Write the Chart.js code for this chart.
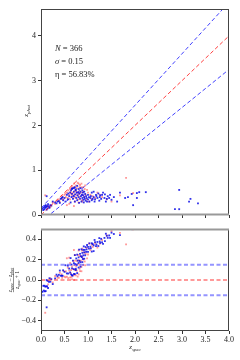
<!DOCTYPE html>
<html>
<head>
<meta charset="utf-8">
<script src="https://cdn.jsdelivr.net/npm/chart.js@4.4.0/dist/chart.umd.min.js"></script>
<style>
html, body { margin: 0; padding: 0; background: #fff; }
.box { position: absolute; left: 0; }
</style>
</head>
<body>
<div class="box" style="top:0"><canvas id="topChart" width="240" height="222"></canvas></div>
<div class="box" style="top:222px"><canvas id="botChart" width="240" height="138"></canvas></div>
<script>
// photometric vs spectroscopic redshift
const blueZspec = [0.01, 0.03, 0.05, 0.06, 0.07, 0.08, 0.09, 0.10, 0.11, 0.12, 0.12, 0.13, 0.14, 0.15, 0.17, 0.18, 0.20, 0.22, 0.25,
  0.35, 0.42, 0.47, 0.50, 0.52, 0.55, 0.57, 0.60, 0.62, 0.63, 0.65, 0.66, 0.68, 0.70, 0.70, 0.72, 0.73, 0.74, 0.75, 0.76, 0.77,
  0.78, 0.80, 0.80, 0.81, 0.82, 0.83, 0.84, 0.85, 0.86, 0.87, 0.88, 0.89, 0.90, 0.90, 0.91, 0.92, 0.93, 0.94, 0.95, 0.96, 0.97,
  0.98, 1.00, 1.00, 1.02, 1.03, 1.05, 1.06, 1.08, 1.10, 1.12, 1.14, 1.15, 1.17, 1.20, 1.22, 1.24, 1.25, 1.28, 1.30, 1.32, 1.35,
  1.38, 1.40, 1.42, 1.45, 1.47, 1.50, 1.55, 1.62, 1.68, 1.79, 1.85, 1.93, 1.96, 2.04, 2.04, 2.09, 2.23, 2.85, 2.94, 2.94, 3.15,
  3.18, 3.34, 0.66, 0.70, 0.74,
  0.30, 0.33, 0.38, 0.40, 0.44, 0.46, 0.58, 0.64, 0.67, 0.72, 0.77, 0.80, 0.84, 0.88, 0.92, 1.08, 1.12, 1.18, 1.26, 1.36];
const blueZphot = [0.12, 0.15, 0.11, 0.17, 0.13, 0.20, 0.16, 0.22, 0.18, 0.42, 0.12, 0.20, 0.15, 0.24, 0.19, 0.16, 0.22, 0.21, 0.30,
  0.30, 0.36, 0.33, 0.38, 0.30, 0.45, 0.35, 0.42, 0.50, 0.28, 0.40, 0.47, 0.36, 0.52, 0.42, 0.30, 0.46, 0.55, 0.38, 0.50, 0.33,
  0.44, 0.58, 0.40, 0.27, 0.48, 0.36, 0.52, 0.42, 0.30, 0.45, 0.38, 0.50, 0.34, 0.44, 0.28, 0.40, 0.36, 0.47, 0.32, 0.42, 0.38,
  0.30, 0.45, 0.35, 0.40, 0.30, 0.38, 0.42, 0.33, 0.36, 0.40, 0.30, 0.35, 0.45, 0.38, 0.48, 0.32, 0.40, 0.36, 0.45, 0.50, 0.38,
  0.30, 0.36, 0.42, 0.38, 0.45, 0.34, 0.40, 0.30, 0.50, 0.38, 0.40, 0.47, 0.22, 0.49, 0.38, 0.51, 0.51, 0.13, 0.13, 0.56, 0.30,
  0.36, 0.26, 0.58, 0.60, 0.57,
  0.28, 0.26, 0.31, 0.27, 0.38, 0.40, 0.48, 0.55, 0.60, 0.62, 0.65, 0.50, 0.60, 0.55, 0.52, 0.50, 0.52, 0.42, 0.44, 0.46];
const redZspec = [0.09, 0.15, 0.20, 0.25, 0.30, 0.35, 0.40, 0.45, 0.48, 0.50, 0.53, 0.55, 0.57, 0.58, 0.60, 0.62, 0.63, 0.65, 0.66,
  0.68, 0.69, 0.70, 0.71, 0.72, 0.73, 0.75, 0.76, 0.77, 0.78, 0.79, 0.80, 0.81, 0.82, 0.83, 0.85, 0.86, 0.87, 0.88, 0.90, 0.92,
  0.93, 0.95, 0.97, 1.00, 1.02, 1.05, 1.10, 1.15, 1.20, 1.30, 1.40, 1.50, 1.68, 1.81, 1.96, 0.60, 0.70, 0.55, 0.83, 0.64,
  0.62, 0.66, 0.70, 0.74, 0.78, 0.82, 0.86, 0.90, 0.94, 0.98, 0.72, 0.80, 0.88, 0.52, 0.44, 0.38, 1.08, 1.25];
const redZphot = [0.44, 0.20, 0.18, 0.28, 0.25, 0.32, 0.30, 0.42, 0.35, 0.45, 0.40, 0.50, 0.38, 0.55, 0.45, 0.35, 0.52, 0.60, 0.44,
  0.50, 0.38, 0.62, 0.46, 0.55, 0.40, 0.52, 0.60, 0.44, 0.50, 0.35, 0.70, 0.46, 0.55, 0.40, 0.50, 0.62, 0.33, 0.45, 0.52, 0.40,
  0.58, 0.45, 0.35, 0.50, 0.30, 0.45, 0.42, 0.38, 0.50, 0.40, 0.35, 0.30, 0.44, 0.83, 0.49, 0.25, 0.20, 0.22, 0.67, 0.48,
  0.58, 0.65, 0.70, 0.66, 0.72, 0.62, 0.70, 0.62, 0.66, 0.56, 0.30, 0.28, 0.30, 0.48, 0.36, 0.35, 0.36, 0.45];

const nObjects = 366;
const sigma = 0.15;
const eta = 56.83;
const xTicks = [0, 0.5, 1, 1.5, 2, 2.5, 3, 3.5, 4];
const topYTicks = [0, 1, 2, 3, 4];
const botYTicks = [-0.4, -0.2, 0, 0.2, 0.4];

const FONT = 'Liberation Serif';
Chart.defaults.font.family = FONT;
Chart.defaults.font.size = 8;
Chart.defaults.color = '#222';

const pairs = (xs, ys) => xs.map((x, i) => ({ x: x, y: ys[i] }));
const resid = (xs, ys) => xs.map((x, i) => ({ x: x, y: (x - ys[i]) / (1 + x) }))
  .filter(p => p.y >= -0.5 && p.y <= 0.5);

// draw a run of text pieces: [text, size, dy, italic]
function seqWidth(ctx, parts) {
  let w = 0;
  parts.forEach(p => { ctx.font = (p[3] ? 'italic ' : '') + p[1] + 'px ' + FONT; w += ctx.measureText(p[0]).width; });
  return w;
}
function drawSeq(ctx, parts, x, y) {
  parts.forEach(p => {
    ctx.font = (p[3] ? 'italic ' : '') + p[1] + 'px ' + FONT;
    ctx.fillText(p[0], x, y + p[2]);
    x += ctx.measureText(p[0]).width;
  });
}
const zs = [['z', 7, 0, true], ['spec', 5, 1.5, true]];
const zp = [['z', 7, 0, true], ['phot', 5, 1.5, true]];

const frame = {
  id: 'frame',
  afterDraw(chart, args, opts) {
    const { ctx, chartArea: a } = chart;
    ctx.save();
    ctx.strokeStyle = '#444';
    ctx.lineWidth = 1;
    ctx.strokeRect(a.left + 0.5, a.top + 0.5, a.right - a.left - 1, a.bottom - a.top - 1);
    ctx.strokeStyle = '#999';
    ctx.lineWidth = 2;
    ctx.beginPath();
    const yy = opts.inner === 'bottom' ? a.bottom - 0.5 : a.top + 0.5;
    ctx.moveTo(a.left, yy);
    ctx.lineTo(a.right, yy);
    ctx.stroke();
    ctx.fillStyle = '#222';
    ctx.textBaseline = 'alphabetic';
    if (opts.inner === 'bottom') {
      drawSeq(ctx, [['N', 8.5, 0, true], [' = ' + nObjects, 8.5, 0, false]], 55, 51);
      drawSeq(ctx, [['σ', 8.5, 0, true], [' = ' + sigma.toFixed(2), 8.5, 0, false]], 55, 64);
      drawSeq(ctx, [['η', 8.5, 0, false], [' = ' + eta.toFixed(2) + '%', 8.5, 0, false]], 55, 77);
      ctx.translate(28, 111);
      ctx.rotate(-Math.PI / 2);
      drawSeq(ctx, zp, -seqWidth(ctx, zp) / 2, 0);
    } else {
      drawSeq(ctx, zs, 135 - seqWidth(ctx, zs) / 2, 127);
      // fraction label on the residual axis
      ctx.translate(14, 58);
      ctx.rotate(-Math.PI / 2);
      const s = 5.5, sb = 4;
      const num = [['z', s, 0, true], ['spec', sb, 1, true], [' − ', s, 0, false], ['z', s, 0, true], ['phot', sb, 1, true]];
      const den = [['z', s, 0, true], ['spec', sb, 1, true], [' + 1', s, 0, false]];
      const wn = seqWidth(ctx, num), wd = seqWidth(ctx, den);
      drawSeq(ctx, num, -wn / 2, -2);
      drawSeq(ctx, den, -wd / 2, 4.5);
      ctx.strokeStyle = '#222';
      ctx.lineWidth = 0.5;
      ctx.beginPath();
      ctx.moveTo(-wn / 2, -0.5);
      ctx.lineTo(wn / 2, -0.5);
      ctx.stroke();
    }
    ctx.restore();
  }
};

const tickGrid = { drawOnChartArea: false, drawTicks: true, tickLength: 3, color: '#333' };
const setTicks = arr => s => { s.ticks = arr.map(v => ({ value: v })); };
const dashed = (data, color, width) => ({
  data: data, showLine: true, borderColor: color, borderWidth: width,
  borderDash: [4, 2.5], pointRadius: 0, fill: false
});
const dots = (data, color) => ({
  data: data, showLine: false, pointStyle: 'rect', pointRadius: 1.3,
  backgroundColor: color, borderWidth: 0
});

new Chart(document.getElementById('topChart'), {
  type: 'scatter',
  data: {
    datasets: [
      dashed([{ x: 0, y: sigma }, { x: 4, y: 4 + sigma * 5 }], 'rgba(0,0,255,0.75)', 1),
      dashed([{ x: 0, y: 0 }, { x: 4, y: 4 }], 'rgba(255,0,0,0.75)', 1),
      dashed([{ x: 0, y: -sigma }, { x: 4, y: 4 - sigma * 5 }], 'rgba(0,0,255,0.75)', 1),
      dots(pairs(blueZspec, blueZphot), 'rgba(0,0,230,0.8)'),
      dots(pairs(redZspec, redZphot), 'rgba(255,70,70,0.55)')
    ]
  },
  options: {
    responsive: false,
    animation: false,
    layout: { padding: { left: 0, right: 11, top: 9, bottom: 0 } },
    plugins: { legend: { display: false }, tooltip: { enabled: false }, frame: { inner: 'bottom' } },
    scales: {
      x: {
        type: 'linear', min: 0, max: 4,
        afterBuildTicks: setTicks(xTicks),
        afterFit: s => { s.height = 7; },
        ticks: { display: false },
        grid: tickGrid, border: { display: false }
      },
      y: {
        type: 'linear', min: 0, max: 4.6,
        afterBuildTicks: setTicks(topYTicks),
        afterFit: s => { s.width = 41; },
        ticks: { padding: 2, callback: v => String(v) },
        grid: tickGrid, border: { display: false }
      }
    }
  },
  plugins: [frame]
});

new Chart(document.getElementById('botChart'), {
  type: 'scatter',
  data: {
    datasets: [
      dashed([{ x: 0, y: sigma }, { x: 4, y: sigma }], 'rgba(60,60,255,0.55)', 2),
      dashed([{ x: 0, y: 0 }, { x: 4, y: 0 }], 'rgba(255,0,0,0.8)', 1.2),
      dashed([{ x: 0, y: -sigma }, { x: 4, y: -sigma }], 'rgba(60,60,255,0.55)', 2),
      dots(resid(blueZspec, blueZphot), 'rgba(0,0,230,0.8)'),
      dots(resid(redZspec, redZphot), 'rgba(255,70,70,0.55)')
    ]
  },
  options: {
    responsive: false,
    animation: false,
    layout: { padding: { left: 0, right: 11, top: 7, bottom: 0 } },
    plugins: { legend: { display: false }, tooltip: { enabled: false }, frame: { inner: 'top' } },
    scales: {
      x: {
        type: 'linear', min: 0, max: 4,
        afterBuildTicks: setTicks(xTicks),
        afterFit: s => { s.height = 29; },
        ticks: { padding: 1, maxRotation: 0, callback: v => v.toFixed(1) },
        grid: tickGrid, border: { display: false }
      },
      y: {
        type: 'linear', min: -0.5, max: 0.5,
        afterBuildTicks: setTicks(botYTicks),
        afterFit: s => { s.width = 41; },
        ticks: { padding: 2, callback: v => (v < 0 ? '−' : '') + Math.abs(v).toFixed(1) },
        grid: tickGrid, border: { display: false }
      }
    }
  },
  plugins: [frame]
});
</script>
</body>
</html>
